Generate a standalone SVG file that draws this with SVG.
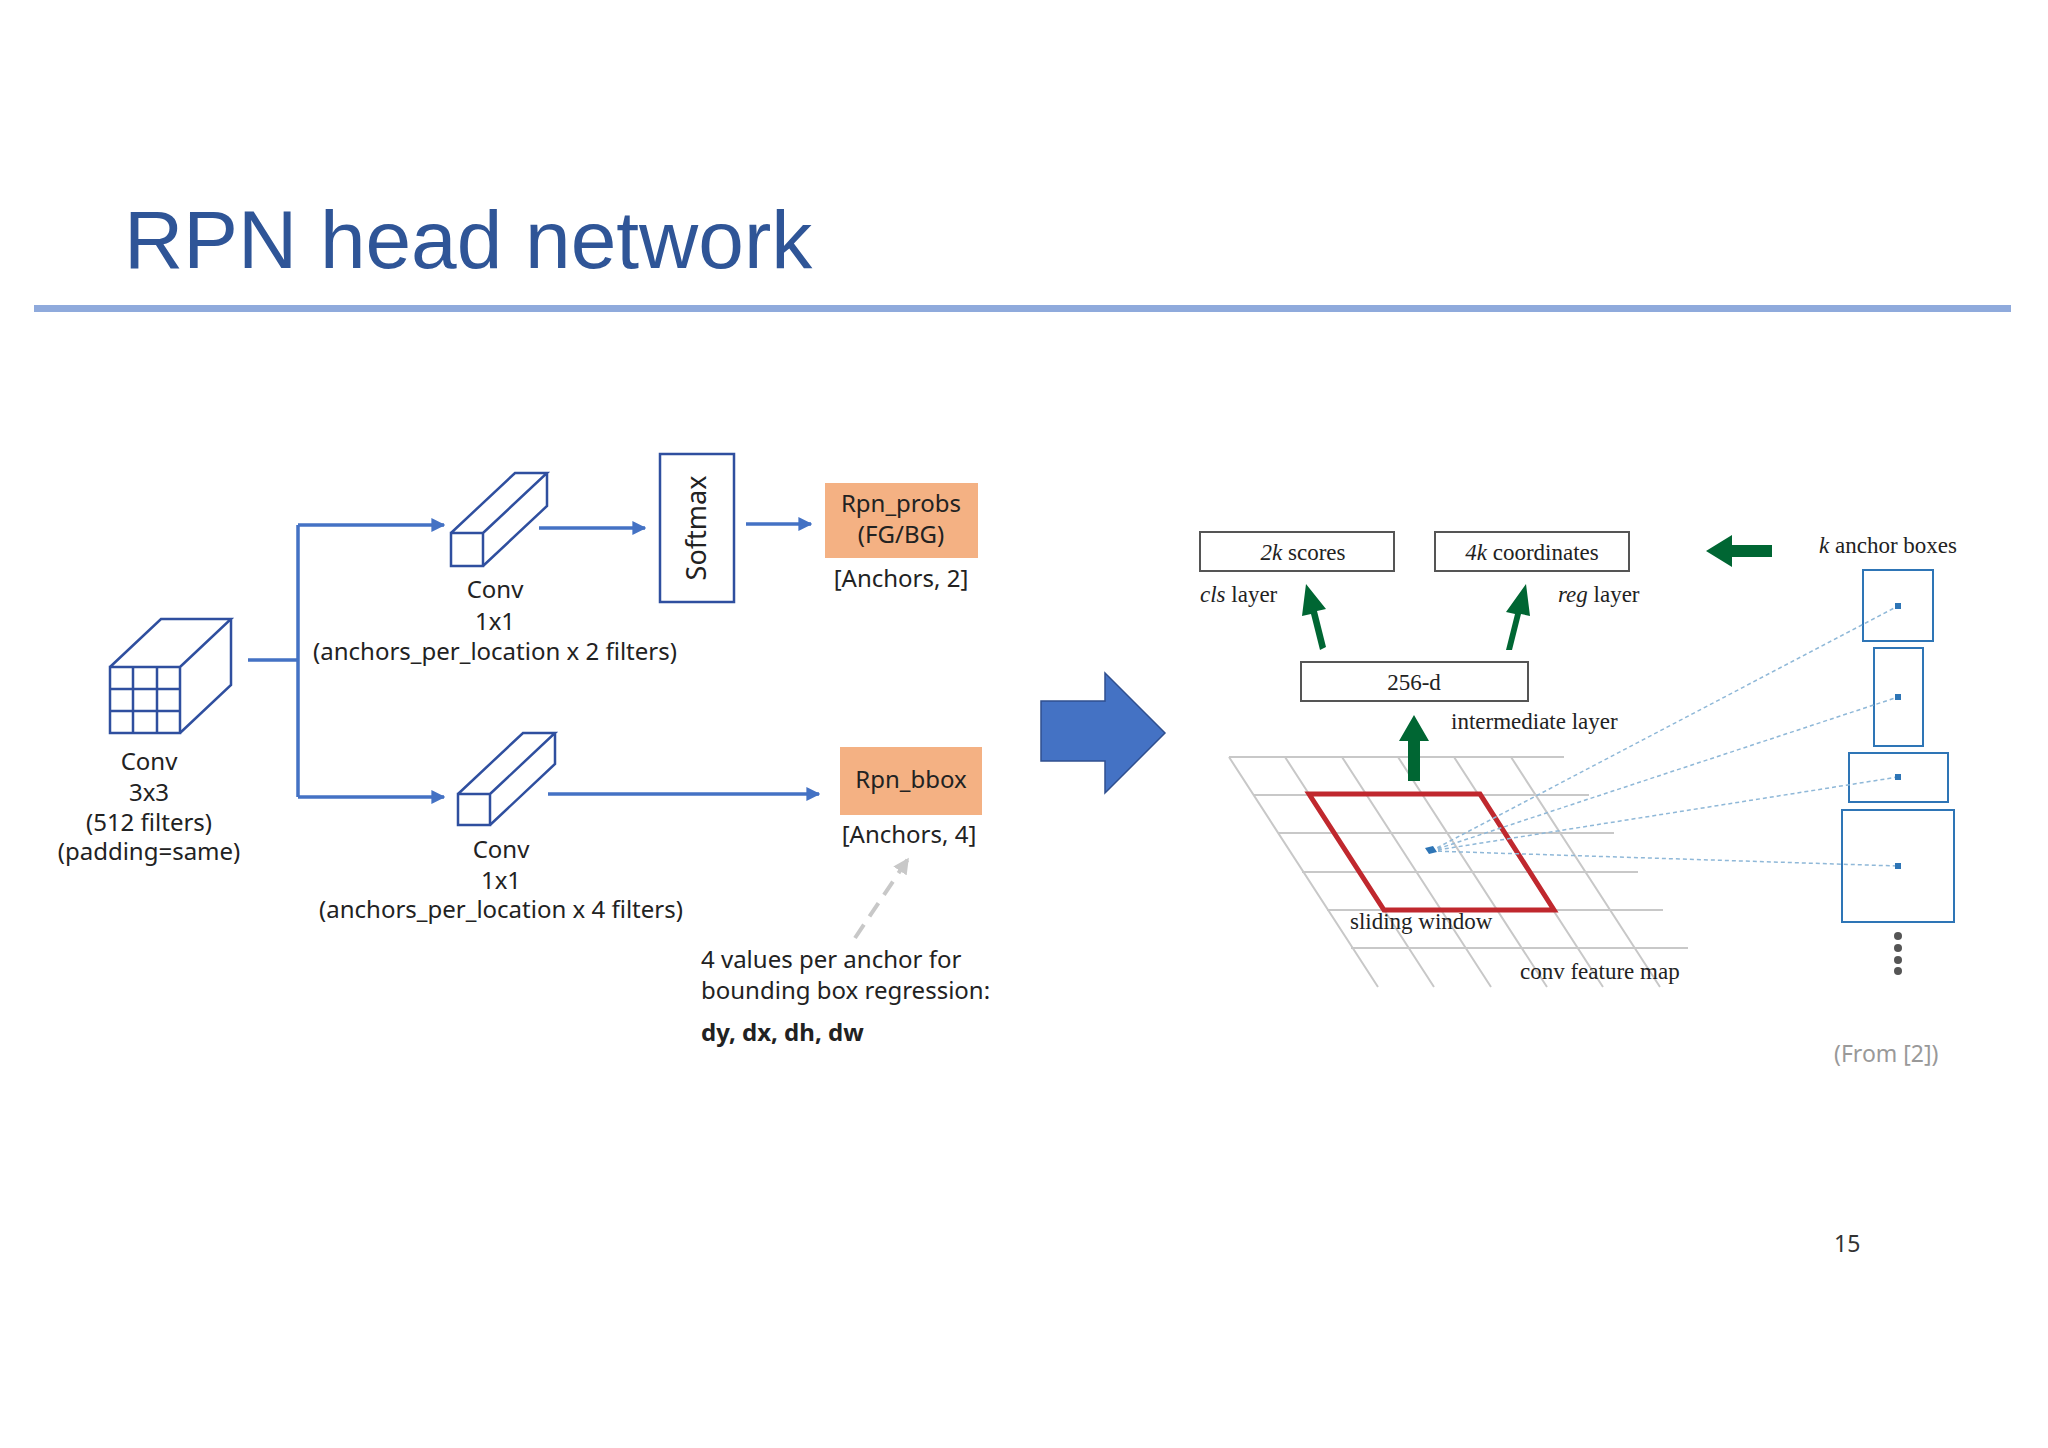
<svg xmlns="http://www.w3.org/2000/svg" width="2048" height="1448" viewBox="0 0 2048 1448">
<defs>
<style>
.t{font-family:"Noto Sans","Liberation Sans",sans-serif;font-size:24px;fill:#222;text-anchor:middle}
.s{font-family:"Liberation Serif",serif;font-size:23px;fill:#222}
.b{fill:none;stroke:#2F4F9F;stroke-width:2.5}
.c{fill:none;stroke:#4472C4;stroke-width:3.5}
.g{stroke:#c8c8c8;stroke-width:2}
.d{stroke:#8fb8d8;stroke-width:1.5;stroke-dasharray:4 3}
.ab{fill:none;stroke:#2E75B6;stroke-width:2}
.gr{fill:#006633}
.w{fill:#fff;stroke:#555;stroke-width:2}
</style>
<marker id="ah" viewBox="0 0 10 10" refX="9" refY="5" markerWidth="4" markerHeight="4" orient="auto"><path d="M0 0L10 5L0 10z" fill="#4472C4"/></marker>
<marker id="ag" viewBox="0 0 10 10" refX="9" refY="5" markerWidth="4" markerHeight="4" orient="auto"><path d="M0 0L10 5L0 10z" fill="#c8c8c8"/></marker>
</defs>
<rect width="2048" height="1448" fill="#fff"/>
<text x="124" y="268" font-family="Liberation Sans,sans-serif" font-size="82" fill="#2F5597">RPN head network</text>
<rect x="34" y="305" width="1977" height="7" fill="#8FAADC"/>

<g id="conv3x3">
<path class="b" d="M110 667h70v66h-70z M110 667l51-48h70l-51 48 M231 619v66l-51 48 M133 667v66 M157 667v66 M110 689h70 M110 711h70"/>
<text class="t" x="149" y="770">Conv</text><text class="t" x="149" y="801">3x3</text><text class="t" x="149" y="831">(512 filters)</text><text class="t" x="149" y="860">(padding=same)</text>
</g>
<g id="conv1">
<path class="b" d="M451 533h32v33h-32z M451 533l64-60h32l-64 60 M547 473v33l-64 60"/>
<text class="t" x="495" y="598">Conv</text><text class="t" x="495" y="630">1x1</text><text class="t" x="495" y="660">(anchors_per_location x 2 filters)</text>
</g>
<g id="conv2">
<path class="b" d="M458 794h32v31h-32z M458 794l65-61h32l-65 61 M555 733v31l-65 61"/>
<text class="t" x="501" y="858">Conv</text><text class="t" x="501" y="889">1x1</text><text class="t" x="501" y="918">(anchors_per_location x 4 filters)</text>
</g>
<g id="softmax">
<rect x="660" y="454" width="74" height="148" fill="#fff" stroke="#2F4F9F" stroke-width="2.5"/>
<text class="t" transform="translate(706 528) rotate(-90)" style="font-size:27px">Softmax</text>
</g>
<g id="rpn_probs">
<rect x="825" y="483" width="153" height="75" fill="#F4B183"/>
<text class="t" x="901" y="512">Rpn_probs</text><text class="t" x="901" y="543">(FG/BG)</text>
<text class="t" x="901" y="587">[Anchors, 2]</text>
</g>
<g id="rpn_bbox">
<rect x="840" y="747" width="142" height="68" fill="#F4B183"/>
<text class="t" x="911" y="788">Rpn_bbox</text>
<text class="t" x="909" y="843">[Anchors, 4]</text>
</g>
<g id="note">
<text class="t" x="701" y="968" style="text-anchor:start">4 values per anchor for</text>
<text class="t" x="701" y="999" style="text-anchor:start">bounding box regression:</text>
<text class="t" x="701" y="1041" style="text-anchor:start;font-weight:bold">dy, dx, dh, dw</text>
</g>
<g id="connectors">
<path class="c" d="M248 660h50 M298 525v272"/>
<path class="c" d="M298 525h146" marker-end="url(#ah)"/>
<path class="c" d="M298 797h146" marker-end="url(#ah)"/>
<path class="c" d="M539 528h106" marker-end="url(#ah)"/>
<path class="c" d="M746 524h65" marker-end="url(#ah)"/>
<path class="c" d="M548 794h271" marker-end="url(#ah)"/>
<path d="M855 938L908 859" stroke="#c8c8c8" stroke-width="4" stroke-dasharray="16 10" marker-end="url(#ag)"/>
</g>
<path id="bigarrow" d="M1041 701h64v-28l60 60l-60 60v-32h-64z" fill="#4472C4" stroke="#2F4F8F" stroke-width="1.5"/>

<g id="rpn_figure">
<g>
<path class="g" d="M1229 757h335 M1253 795h336 M1278 833h336 M1302 872h336 M1327 910h336 M1351 948h337"/>
<path class="g" d="M1229 757l149 230 M1285 757l149 230 M1342 757l149 230 M1398 757l149 230 M1454 757l149 230 M1511 757l149 230"/>
</g>
<path d="M1309 794h171l74 116h-170z" fill="none" stroke="#C0282E" stroke-width="5"/>
<g>
<rect class="ab" x="1863" y="570" width="70" height="71"/>
<rect class="ab" x="1874" y="648" width="49" height="98"/>
<rect class="ab" x="1849" y="753" width="99" height="49"/>
<rect class="ab" x="1842" y="810" width="112" height="112"/>
<path class="d" d="M1431 851L1898 606 M1431 851L1898 697 M1431 851L1898 777 M1431 851L1898 866"/>
<g fill="#2E75B6"><rect x="1895" y="603" width="6" height="6"/><rect x="1895" y="694" width="6" height="6"/><rect x="1895" y="774" width="6" height="6"/><rect x="1895" y="863" width="6" height="6"/><path d="M1425 848l8-2l4 6l-8 2z"/></g>
<g fill="#555"><circle cx="1898" cy="936" r="4"/><circle cx="1898" cy="948" r="4"/><circle cx="1898" cy="960" r="4"/><circle cx="1898" cy="971" r="4"/></g>
</g>
<rect class="w" x="1200" y="532" width="194" height="39"/>
<rect class="w" x="1435" y="532" width="194" height="39"/>
<rect class="w" x="1301" y="662" width="227" height="39"/>
<text class="s" x="1303" y="560" text-anchor="middle"><tspan font-style="italic">2k</tspan> scores</text>
<text class="s" x="1532" y="560" text-anchor="middle"><tspan font-style="italic">4k</tspan> coordinates</text>
<text class="s" x="1414" y="690" text-anchor="middle">256-d</text>
<text class="s" x="1200" y="602"><tspan font-style="italic">cls</tspan> layer</text>
<text class="s" x="1558" y="602"><tspan font-style="italic">reg</tspan> layer</text>
<text class="s" x="1451" y="729">intermediate layer</text>
<text class="s" x="1819" y="553"><tspan font-style="italic">k</tspan> anchor boxes</text>
<text class="s" x="1350" y="929">sliding window</text>
<text class="s" x="1520" y="979">conv feature map</text>
<path class="gr" d="M1320 650l-9-36l-9 2l4-32l20 25l-9 2l9 36z"/>
<path class="gr" d="M1506 650l9-36l-9-2l20-28l4 32l-9-2l-9 36z"/>
<path class="gr" d="M1408 781v-40h-9l15-26l15 26h-9v40z"/>
<path class="gr" d="M1772 545v12h-40v10l-26-16l26-16v10z"/>
</g>
<text x="1834" y="1062" font-family="Noto Sans,sans-serif" font-size="23" fill="#999">(From [2])</text>
<text x="1834" y="1252" font-family="Noto Sans,sans-serif" font-size="23" fill="#333">15</text>
</svg>
